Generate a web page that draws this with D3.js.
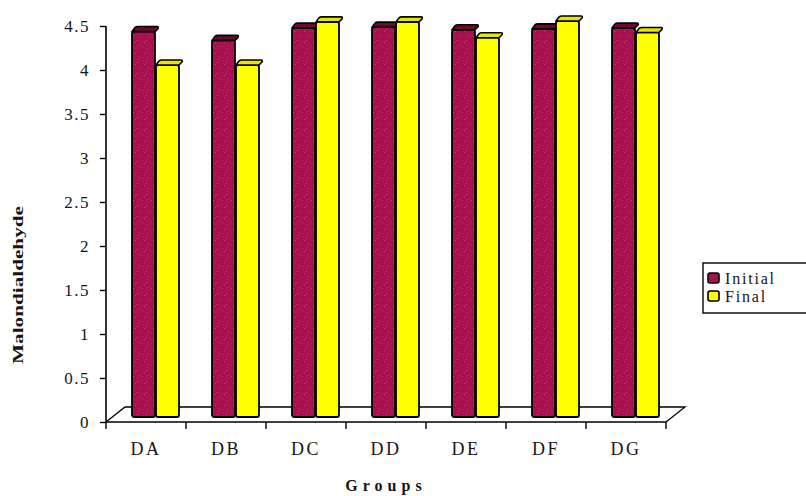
<!DOCTYPE html>
<html>
<head>
<meta charset="utf-8">
<script src="https://cdn.jsdelivr.net/npm/d3@7"></script>
<style>
  html, body { margin: 0; padding: 0; background: #ffffff; }
  svg { display: block; }
  svg text { font-family: "Liberation Serif", "DejaVu Serif", serif; fill: #151515; }
</style>
</head>
<body>
<svg id="chart" width="806" height="496"></svg>
<script>
// Malondialdehyde levels per group, initial vs final
const categories = ["DA", "DB", "DC", "DD", "DE", "DF", "DG"];
const initialValues = [4.38, 4.28, 4.42, 4.43, 4.40, 4.41, 4.42];
const finalValues = [4.00, 4.00, 4.49, 4.49, 4.31, 4.50, 4.37];
const seriesNames = ["Initial", "Final"];
const yTicks = [0, 0.5, 1, 1.5, 2, 2.5, 3, 3.5, 4, 4.5];

const SERIF = '"Liberation Serif", "DejaVu Serif", serif';
const svg = d3.select("#chart");

// Plot frame (front-left corner of the floor at x0,y0)
const x0 = 106, x1 = 666, yTop = 26, yBottom = 422;
const depthX = 19, depthY = 15;      // floor depth
const barDX = 10, barDY = 5;         // bars sit part way into the floor

const x = d3.scaleBand().domain(categories).range([x0, x1]).padding(0);
const xInner = d3.scaleBand().domain(seriesNames).range([0, 48]).padding(0);
const y = d3.scaleLinear().domain([0, 4.5]).range([yBottom, yTop]);

const colors = { Initial: "#a8104f", Final: "#ffff00" };
const capColors = { Initial: "#6a0a30", Final: "#e6e600" };

// speckled texture for the crimson bars
const defs = svg.append("defs");
const pat = defs.append("pattern")
  .attr("id", "speckle").attr("patternUnits", "userSpaceOnUse")
  .attr("width", 9).attr("height", 11);
pat.append("rect").attr("width", 9).attr("height", 11).attr("fill", colors.Initial);
[[1, 2], [5, 7], [7, 1], [3, 9], [6, 4]].forEach(([px, py], i) => {
  pat.append("rect").attr("x", px).attr("y", py).attr("width", 1).attr("height", 1)
    .attr("fill", i % 2 ? "#c8407c" : "#bd2c6c");
});

// Floor outline
const floor = svg.append("g").attr("fill", "none").attr("stroke", "#000").attr("stroke-width", 1.3);
floor.append("path")
  .attr("d", `M${x0},${yBottom} L${x0 + depthX},${yBottom - depthY} L${x1 + depthX},${yBottom - depthY} L${x1},${yBottom}`);

// Bars
const data = categories.map((c, i) => ({ cat: c, Initial: initialValues[i], Final: finalValues[i] }));
const groups = svg.append("g").selectAll("g").data(data).join("g")
  .attr("transform", d => `translate(${x(d.cat) + x.bandwidth() / 2 - 24 + barDX},0)`);

groups.each(function (d) {
  const g = d3.select(this);
  seriesNames.forEach(s => {
    const bx = xInner(s), bw = xInner.bandwidth() - 1;
    const top = y(d[s]) - barDY, base = y(0) - barDY;
    // front face
    g.append("rect")
      .attr("x", bx).attr("y", top).attr("width", bw).attr("height", base - top)
      .attr("rx", 2)
      .attr("fill", s === "Initial" ? "url(#speckle)" : colors[s])
      .attr("stroke", "#000").attr("stroke-width", 1.8);
    // top cap
    const c = 4, h = 5;
    g.append("path")
      .attr("d", `M${bx},${top} L${bx + c - 1},${top - h + 1} Q${bx + c},${top - h} ${bx + c + 2},${top - h} L${bx + bw + c - 2},${top - h} Q${bx + bw + c},${top - h} ${bx + bw + c - 1},${top - h + 2} L${bx + bw},${top} Z`)
      .attr("fill", capColors[s]).attr("stroke", "#000").attr("stroke-width", 1.6)
      .attr("stroke-linejoin", "round");
  });
});

// Y axis
const yAxis = d3.axisLeft(y).tickValues(yTicks).tickSize(6).tickPadding(10)
  .tickFormat(d => d3.format("")(d));
const yg = svg.append("g").attr("transform", `translate(${x0},0)`).call(yAxis);
yg.attr("font-family", null);
yg.select(".domain").attr("stroke", "#000").attr("stroke-width", 1.6).attr("d", `M0,${yTop}V${yBottom}`);
yg.selectAll(".tick line").attr("stroke", "#000").attr("stroke-width", 1.4);
yg.selectAll(".tick text").style("font-family", SERIF).attr("font-size", 17)
  .attr("letter-spacing", 1.5).attr("dy", "0.35em");

// X axis
const xAxis = d3.axisBottom(x).tickSize(0).tickPadding(0);
const xg = svg.append("g").attr("transform", `translate(0,${yBottom})`).call(xAxis);
xg.attr("font-family", null);
xg.select(".domain").attr("stroke", "#000").attr("stroke-width", 1.6).attr("d", `M${x0},0H${x1}`);
xg.selectAll(".tick text").style("font-family", SERIF).attr("font-size", 18)
  .attr("letter-spacing", 2.5).attr("dy", 0).attr("y", 33);
// category boundary ticks
xg.append("g").selectAll("line")
  .data(categories.map(c => x(c)).concat([x1]))
  .join("line")
  .attr("x1", d => d).attr("x2", d => d).attr("y1", 0).attr("y2", 7)
  .attr("stroke", "#000").attr("stroke-width", 1.4);

// Axis titles
svg.append("text")
  .style("font-family", SERIF)
  .attr("x", 386).attr("y", 491).attr("text-anchor", "middle")
  .attr("font-size", 16).attr("font-weight", "bold").attr("letter-spacing", 5)
  .text("Groups");

svg.append("text")
  .style("font-family", SERIF)
  .attr("transform", "translate(23,285) rotate(-90)")
  .attr("text-anchor", "middle")
  .attr("font-size", 15).attr("font-weight", "bold")
  .attr("textLength", 158).attr("lengthAdjust", "spacingAndGlyphs")
  .text("Malondialdehyde");

// Legend
const legend = svg.append("g").attr("transform", "translate(703,263)");
legend.append("rect").attr("x", 0).attr("y", 0).attr("width", 110).attr("height", 50)
  .attr("fill", "#fff").attr("stroke", "#000").attr("stroke-width", 1.4);
seriesNames.forEach((s, i) => {
  const row = legend.append("g").attr("transform", `translate(5,${10 + i * 18})`);
  row.append("rect").attr("width", 11).attr("height", 10).attr("rx", 2)
    .attr("fill", colors[s]).attr("stroke", "#000").attr("stroke-width", 1.6);
  row.append("text").style("font-family", SERIF)
    .attr("x", 17).attr("y", 11).attr("font-size", 16)
    .attr("letter-spacing", 1.8).text(s);
});
</script>
</body>
</html>
